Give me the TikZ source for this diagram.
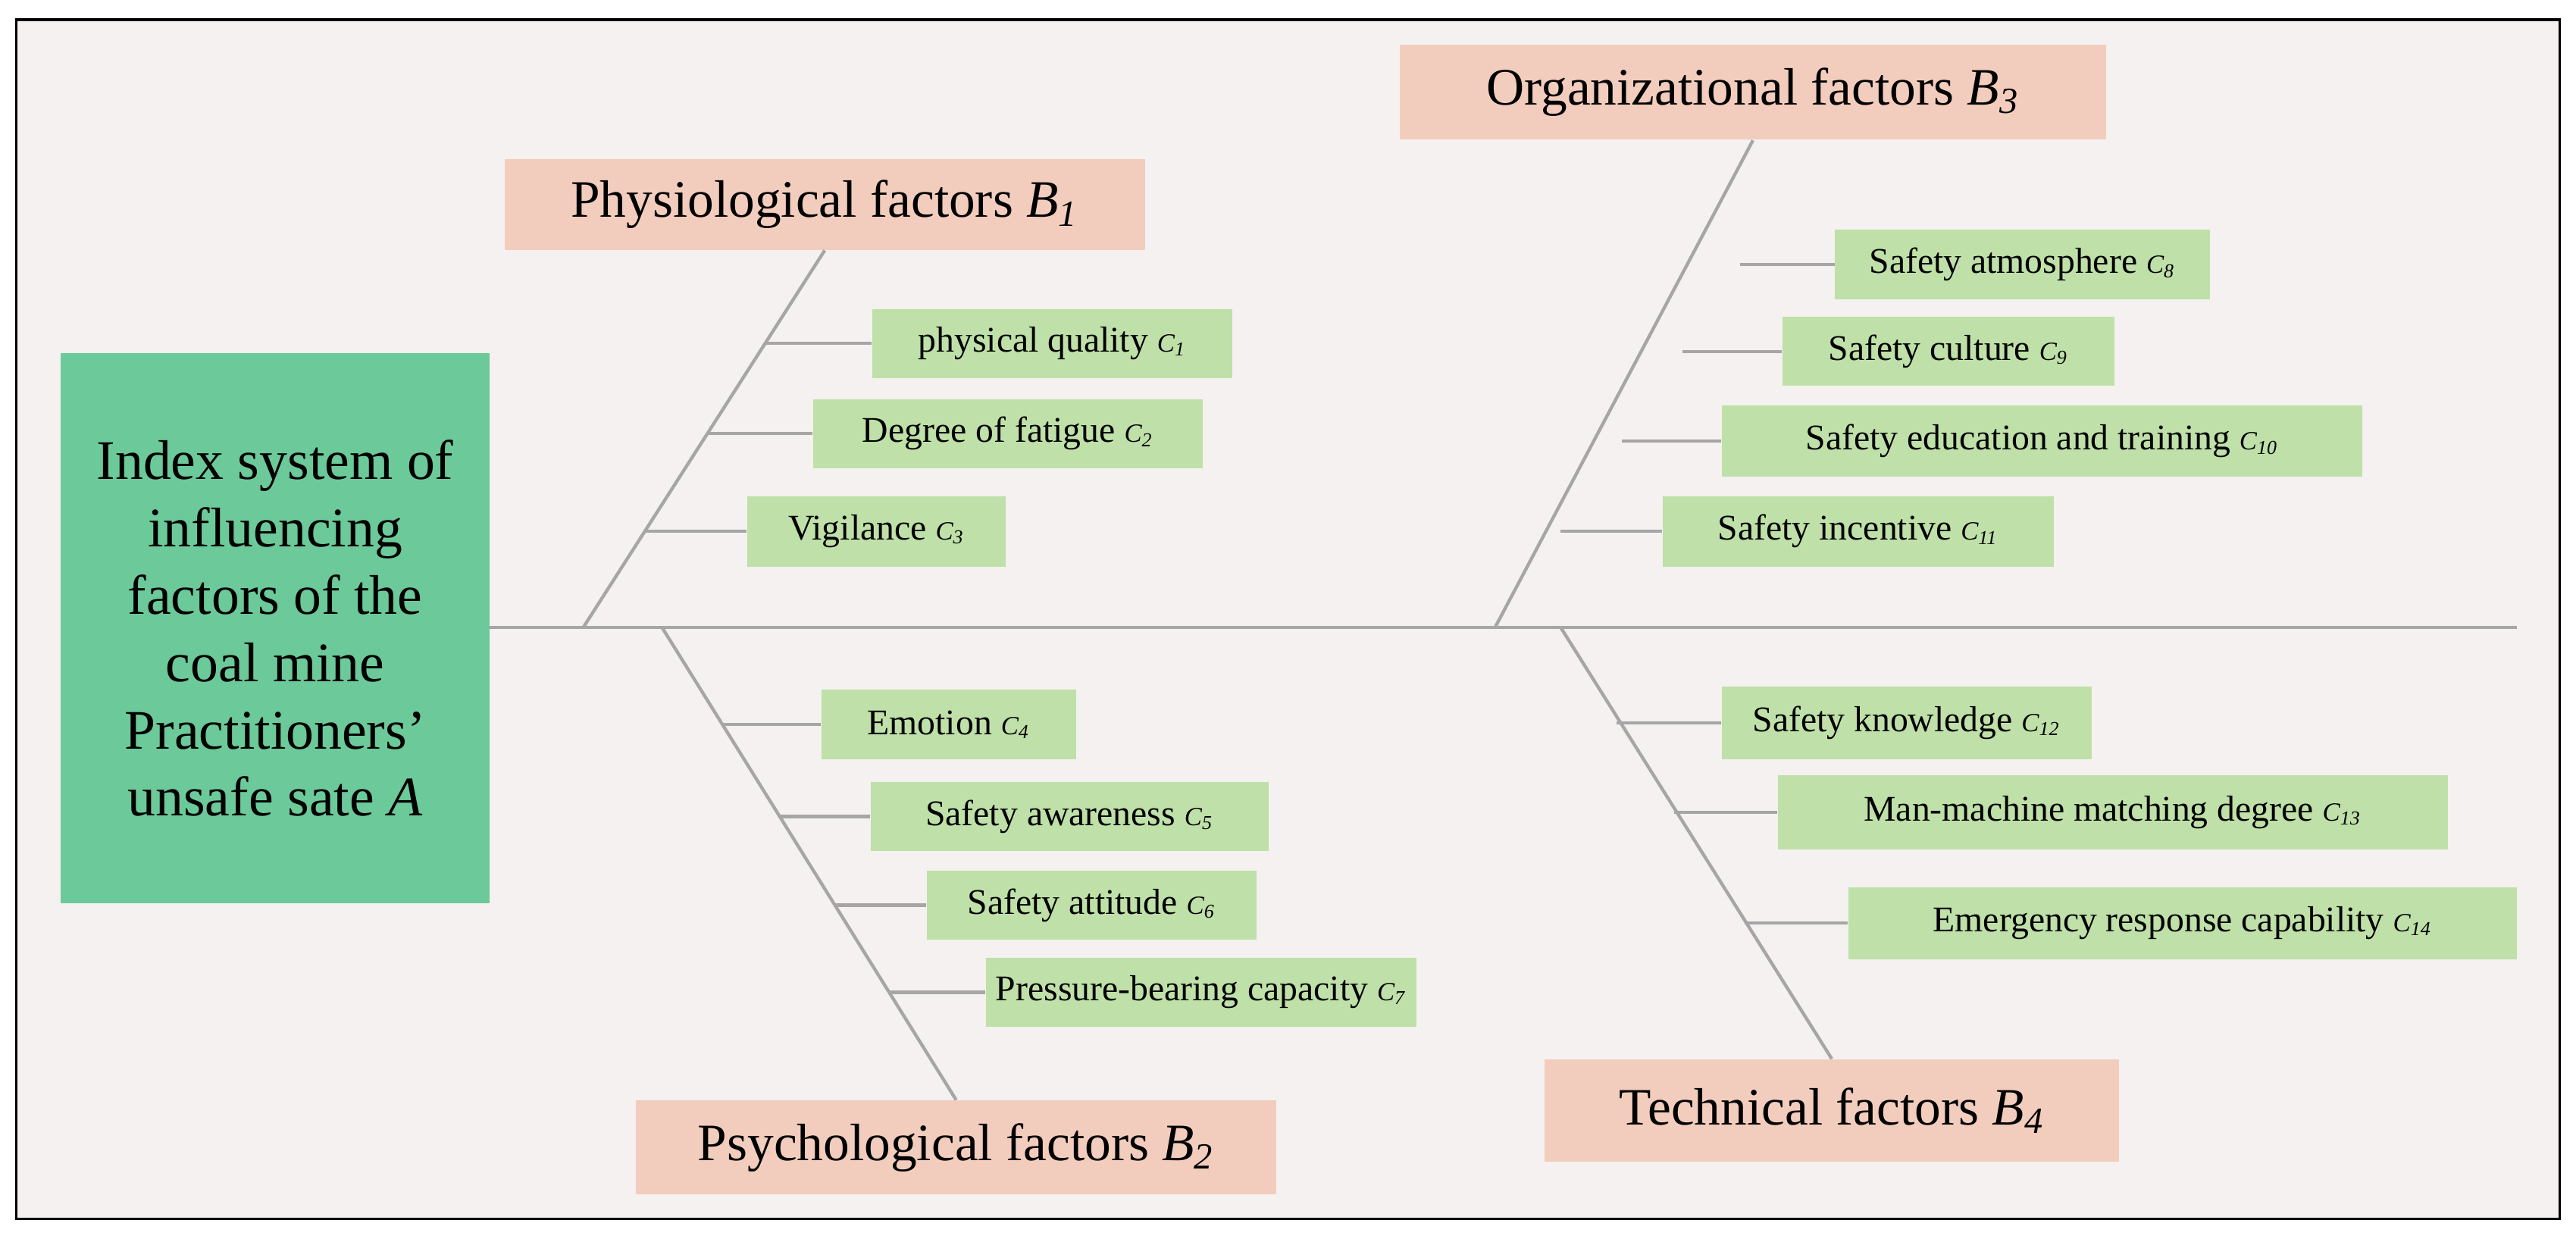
\documentclass[tikz,border=0pt]{standalone}
\usepackage{fontspec}
\setmainfont{Liberation Serif}
\definecolor{bg}{HTML}{F4F1F0}
\definecolor{agreen}{HTML}{6CC99A}
\definecolor{bpeach}{HTML}{F2CDBD}
\definecolor{cgreen}{HTML}{BFE0A8}
\definecolor{ln}{HTML}{A6A6A6}
\begin{document}
\begin{tikzpicture}[x=0.5pt,y=-0.5pt,
  bbox/.style={fill=bpeach,inner sep=0pt,font=\fontsize{16}{18}\selectfont},
  cbox/.style={fill=cgreen,inner sep=0pt,font=\fontsize{11}{13}\selectfont},
  bone/.style={draw=ln,line width=1pt}]
\useasboundingbox (0,0) rectangle (1568,756);
\fill[white] (0,0) rectangle (1568,756);
\draw[fill=bg,line width=0.8pt] (10,12) rectangle (1558,742);
\node[fill=agreen,minimum width=130.5pt,minimum height=167.5pt,inner sep=0pt,align=center,font=\fontsize{17}{20.5}\selectfont] (A) at (167.5,382.5)
 {Index system of\\influencing\\factors of the\\coal mine\\Practitioners’\\unsafe sate \textit{A}};
\coordinate (S0) at (298,382); \coordinate (S1) at (1532,382);
\draw[bone] (S0)--(S1);
% B nodes
\node[bbox,minimum width=195pt,minimum height=27.5pt] (B1) at (502,124.5) {Physiological factors \textit{B\textsubscript{1}}};
\node[bbox,minimum width=195pt,minimum height=28.5pt] (B2) at (582,698.5) {Psychological factors \textit{B\textsubscript{2}}};
\node[bbox,minimum width=215pt,minimum height=29pt] (B3) at (1067,56) {Organizational factors \textit{B\textsubscript{3}}};
\node[bbox,minimum width=175pt,minimum height=31pt] (B4) at (1115,676) {Technical factors \textit{B\textsubscript{4}}};
\coordinate (r1) at (355,382); \coordinate (r2) at (403,382);
\coordinate (r3) at (910,382); \coordinate (r4) at (950,382);
\draw[bone] (r1)--(B1.south); \draw[bone] (r2)--(B2.north);
\draw[bone] (r3)--(B3.south); \draw[bone] (r4)--(B4.north);
% C nodes: name, center x, center y, width, height
\newcommand{\cnode}[7]{\node[cbox,minimum width=#4*0.5pt,minimum height=#5*0.5pt] (#1) at (#2,#3) {#6 \textit{\footnotesize C\textsubscript{#7}}};}
\cnode{C1}{640.5}{209}{219}{42}{physical quality}{1}
\cnode{C2}{613.5}{264}{237}{42}{Degree of fatigue}{2}
\cnode{C3}{533.5}{323.5}{157}{43}{Vigilance}{3}
\cnode{C4}{577.5}{441}{155}{42}{Emotion}{4}
\cnode{C5}{651}{497}{242}{42}{Safety awareness}{5}
\cnode{C6}{664.5}{551}{201}{42}{Safety attitude}{6}
\cnode{C7}{731}{604}{262}{42}{Pressure-bearing capacity}{7}
\cnode{C8}{1231}{161}{228}{42}{Safety atmosphere}{8}
\cnode{C9}{1186}{214}{202}{42}{Safety culture}{9}
\cnode{C10}{1243}{268.5}{390}{43}{Safety education and training}{10}
\cnode{C11}{1131}{323.5}{238}{43}{Safety incentive}{11}
\cnode{C12}{1160.5}{440}{225}{44}{Safety knowledge}{12}
\cnode{C13}{1286}{494.5}{408}{45}{Man-machine matching degree}{13}
\cnode{C14}{1328.5}{562}{407}{44}{Emergency response capability}{14}
\coordinate (k1) at (466,209); \coordinate (k2) at (431,264); \coordinate (k3) at (393,323.5);
\coordinate (k4) at (439,441); \coordinate (k5) at (474,497); \coordinate (k6) at (508,551); \coordinate (k7) at (541,604);
\coordinate (k8) at (1059,161); \coordinate (k9) at (1024,214); \coordinate (k10) at (987,268.5); \coordinate (k11) at (950,323.5);
\coordinate (k12) at (984,440); \coordinate (k13) at (1019,494.5); \coordinate (k14) at (1062,562);
\foreach \i in {1,...,14} \draw[bone] (k\i)--(C\i.west);
\end{tikzpicture}
\end{document}
